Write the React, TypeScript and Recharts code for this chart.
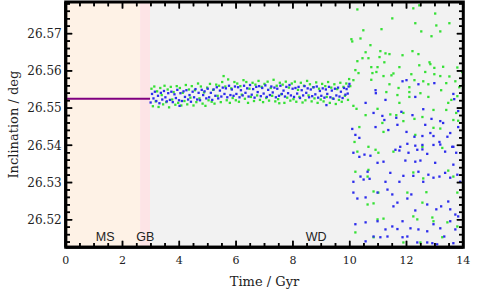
import { ScatterChart, Scatter, XAxis, YAxis, ReferenceArea } from "recharts";

// inclination of the outer planet vs. time, [Gyr, deg]
const MS_TRACK: [number, number][] = [[0, 26.5525], [2.97, 26.5525]];

const GREEN_BAND: [number, number][] = [
  [3.02, 26.5552], [3.07, 26.5505], [3.12, 26.5558], [3.17, 26.5518], [3.22, 26.5545], [3.27, 26.5503],
  [3.33, 26.5554], [3.38, 26.5535], [3.43, 26.551], [3.48, 26.556], [3.54, 26.5516], [3.59, 26.555],
  [3.64, 26.5502], [3.7, 26.5557], [3.75, 26.5523], [3.8, 26.5543], [3.86, 26.5509], [3.91, 26.5559],
  [3.96, 26.5514], [4.02, 26.5554], [4.07, 26.5507], [4.12, 26.5541], [4.18, 26.5519], [4.23, 26.5562],
  [4.28, 26.551], [4.34, 26.555], [4.39, 26.5528], [4.44, 26.5559], [4.5, 26.5507], [4.55, 26.5548],
  [4.6, 26.5516], [4.66, 26.5566], [4.71, 26.5526], [4.76, 26.5558], [4.82, 26.5512], [4.87, 26.5542],
  [4.92, 26.5506], [4.98, 26.5555], [5.03, 26.5521], [5.08, 26.5565], [5.14, 26.5517], [5.19, 26.5549],
  [5.24, 26.5512], [5.3, 26.5563], [5.35, 26.5533], [5.4, 26.556], [5.46, 26.5516], [5.51, 26.557],
  [5.56, 26.5586], [5.62, 26.5558], [5.67, 26.5521], [5.72, 26.5577], [5.78, 26.5514], [5.83, 26.5553],
  [5.88, 26.5527], [5.94, 26.557], [5.99, 26.5521], [6.04, 26.5566], [6.1, 26.5517], [6.15, 26.5559],
  [6.2, 26.5536], [6.26, 26.5575], [6.31, 26.5525], [6.36, 26.557], [6.42, 26.5514], [6.47, 26.5552],
  [6.52, 26.553], [6.58, 26.5568], [6.63, 26.5519], [6.68, 26.5563], [6.74, 26.5534], [6.79, 26.5573],
  [6.84, 26.5522], [6.9, 26.5557], [6.95, 26.5516], [7.0, 26.5565], [7.06, 26.5527], [7.11, 26.5571],
  [7.16, 26.552], [7.22, 26.5554], [7.27, 26.5533], [7.32, 26.5576], [7.38, 26.5518], [7.43, 26.556],
  [7.48, 26.5524], [7.52, 26.5513], [7.54, 26.5568], [7.59, 26.5537], [7.64, 26.5563], [7.7, 26.5514],
  [7.75, 26.5571], [7.8, 26.5528], [7.86, 26.5555], [7.91, 26.552], [7.96, 26.5566], [8.02, 26.5524],
  [8.07, 26.5571], [8.12, 26.5517], [8.18, 26.5549], [8.23, 26.553], [8.28, 26.5568], [8.34, 26.5515],
  [8.39, 26.556], [8.44, 26.5521], [8.5, 26.5573], [8.55, 26.5534], [8.6, 26.5564], [8.66, 26.5518],
  [8.71, 26.5556], [8.76, 26.5526], [8.82, 26.5569], [8.87, 26.5514], [8.92, 26.5552], [8.98, 26.5523],
  [9.03, 26.5565], [9.08, 26.5518], [9.14, 26.5559], [9.19, 26.553], [9.24, 26.557], [9.3, 26.5514],
  [9.35, 26.5555], [9.4, 26.5526], [9.46, 26.5564], [9.51, 26.5511], [9.56, 26.5551], [9.62, 26.5522],
  [9.67, 26.5568], [9.72, 26.5517], [9.78, 26.5557], [9.83, 26.5533], [9.88, 26.5566], [9.94, 26.5522],
  [9.98, 26.5578],
];

const BLUE_BAND: [number, number][] = [
  [2.99, 26.5515], [3.04, 26.5538], [3.09, 26.5526], [3.14, 26.5544], [3.19, 26.5519], [3.25, 26.5533],
  [3.3, 26.5513], [3.35, 26.5541], [3.4, 26.5523], [3.46, 26.5546], [3.51, 26.5529], [3.56, 26.5518],
  [3.61, 26.554], [3.67, 26.5522], [3.72, 26.5544], [3.77, 26.5516], [3.83, 26.5537], [3.88, 26.5527],
  [3.93, 26.5549], [3.99, 26.5521], [4.01, 26.5506], [4.04, 26.554], [4.09, 26.5519], [4.15, 26.5545],
  [4.2, 26.553], [4.25, 26.5548], [4.31, 26.5523], [4.36, 26.5535], [4.41, 26.5517], [4.47, 26.5544],
  [4.52, 26.5529], [4.57, 26.5551], [4.63, 26.5523], [4.68, 26.5541], [4.73, 26.5521], [4.79, 26.5549],
  [4.84, 26.5535], [4.89, 26.5545], [4.95, 26.5526], [5.0, 26.5552], [5.05, 26.5529], [5.11, 26.5541],
  [5.16, 26.5522], [5.21, 26.555], [5.27, 26.5533], [5.32, 26.5556], [5.37, 26.5526], [5.43, 26.5547],
  [5.48, 26.5531], [5.53, 26.5555], [5.59, 26.5538], [5.64, 26.5553], [5.69, 26.5529], [5.75, 26.556],
  [5.8, 26.5535], [5.85, 26.555], [5.91, 26.5533], [5.96, 26.5558], [6.01, 26.5538], [6.07, 26.5556],
  [6.12, 26.5529], [6.17, 26.5548], [6.23, 26.5534], [6.28, 26.556], [6.33, 26.5541], [6.39, 26.5553],
  [6.44, 26.5531], [6.49, 26.5562], [6.55, 26.5536], [6.6, 26.5551], [6.65, 26.5528], [6.71, 26.5557],
  [6.76, 26.5543], [6.81, 26.5559], [6.87, 26.5532], [6.92, 26.5554], [6.97, 26.5539], [7.03, 26.5561],
  [7.08, 26.553], [7.13, 26.5549], [7.19, 26.5535], [7.24, 26.5558], [7.29, 26.5542], [7.35, 26.5555],
  [7.4, 26.5529], [7.45, 26.5552], [7.51, 26.5533], [7.56, 26.556], [7.61, 26.5538], [7.67, 26.5547],
  [7.72, 26.5531], [7.77, 26.5557], [7.83, 26.554], [7.88, 26.5562], [7.93, 26.5534], [7.99, 26.5552],
  [8.04, 26.553], [8.09, 26.5554], [8.15, 26.5539], [8.2, 26.5557], [8.25, 26.5527], [8.31, 26.5548],
  [8.36, 26.5534], [8.41, 26.5559], [8.47, 26.5541], [8.52, 26.5553], [8.57, 26.5529], [8.63, 26.555],
  [8.68, 26.5532], [8.73, 26.5556], [8.79, 26.5537], [8.84, 26.5558], [8.89, 26.5528], [8.95, 26.5546],
  [9.0, 26.5533], [9.05, 26.5553], [9.11, 26.5528], [9.16, 26.555], [9.18, 26.5508], [9.21, 26.5538],
  [9.27, 26.5557], [9.32, 26.5529], [9.37, 26.5547], [9.43, 26.5525], [9.48, 26.5552], [9.53, 26.5534],
  [9.59, 26.5555], [9.64, 26.5531], [9.69, 26.5544], [9.75, 26.5527], [9.8, 26.5554], [9.85, 26.5536],
  [9.89, 26.5551], [9.93, 26.5539], [9.96, 26.5558], [9.99, 26.5565],
];

const GREEN_SCATTER: [number, number][] = [
  [10.48, 26.5709], [11.12, 26.5712], [12.31, 26.5728], [13.05, 26.5722], [13.51, 26.5728], [12.52, 26.5706],
  [13.19, 26.5706], [12.88, 26.5693], [10.38, 26.5687], [10.09, 26.5679], [10.73, 26.5669], [10.56, 26.565],
  [11.08, 26.5653], [11.26, 26.5647], [11.4, 26.5645], [12.21, 26.5653], [12.42, 26.5645], [11.86, 26.5642],
  [10.45, 26.5634], [10.66, 26.5634], [11.05, 26.5637], [10.27, 26.5626], [11.22, 26.5623], [12.81, 26.5623],
  [12.84, 26.5618], [12.45, 26.5615], [10.76, 26.561], [10.98, 26.561], [11.75, 26.561], [12.98, 26.5608],
  [13.29, 26.5611], [13.79, 26.5609], [10.94, 26.5597], [10.8, 26.5594], [10.31, 26.5594], [11.19, 26.5586],
  [11.47, 26.5588], [11.54, 26.5593], [12.17, 26.5591], [12.66, 26.5597], [12.98, 26.5591], [13.19, 26.5586],
  [13.51, 26.5585], [13.96, 26.5597], [10.13, 26.5575], [10.76, 26.5576], [11.4, 26.5564], [11.72, 26.5554],
  [12.28, 26.5575], [12.59, 26.5572], [12.77, 26.5564], [13.4, 26.5567], [13.72, 26.5572], [12.1, 26.5556],
  [10.02, 26.5559], [11.29, 26.5543], [12.1, 26.5543], [11.68, 26.5535], [12.49, 26.554], [13.22, 26.5548],
  [13.86, 26.5556], [13.99, 26.5562], [11.75, 26.5514], [12.1, 26.553], [12.77, 26.553], [13.58, 26.5522],
  [13.79, 26.5532], [13.47, 26.5514], [10.98, 26.5498], [11.64, 26.5481], [11.43, 26.5483], [11.89, 26.5487],
  [10.56, 26.5481], [12.95, 26.5495], [13.4, 26.5495], [13.75, 26.5487], [12.56, 26.5476], [12.28, 26.5471],
  [11.89, 26.5465], [10.13, 26.5506], [10.24, 26.5498], [10.27, 26.5765], [11.5, 26.5741], [12.24, 26.5768],
  [12.45, 26.5776], [13.01, 26.5754], [10.06, 26.5685], [10.2, 26.5602], [10.34, 26.5449], [10.66, 26.5396],
  [10.17, 26.5409], [11.15, 26.546], [11.19, 26.5436], [12.31, 26.5428], [12.95, 26.5447], [13.19, 26.5445],
  [13.65, 26.5468], [13.82, 26.5466], [10.27, 26.5383], [10.91, 26.5388], [11.01, 26.538], [11.54, 26.5383],
  [12.56, 26.5396], [13.26, 26.5393], [10.2, 26.5329], [10.63, 26.5316], [10.66, 26.5334], [10.84, 26.5276],
  [11.01, 26.5273], [12.03, 26.5273], [12.24, 26.5327], [12.59, 26.5311], [12.7, 26.5274], [12.56, 26.5246],
  [13.47, 26.5332], [13.65, 26.5316], [13.79, 26.5273], [10.63, 26.5241], [10.84, 26.5244], [10.98, 26.5201],
  [11.19, 26.5203], [12.24, 26.5209], [12.38, 26.5201], [12.91, 26.5206], [12.95, 26.5196], [13.44, 26.5193],
  [13.79, 26.5182], [10.2, 26.5166], [10.84, 26.5153], [12.49, 26.5139], [13.26, 26.5153], [11.89, 26.5139],
];

const BLUE_SCATTER: [number, number][] = [
  [10.91, 26.5548], [10.92, 26.554], [11.26, 26.5522], [10.56, 26.5514], [11.86, 26.5572], [12.0, 26.5575],
  [12.42, 26.5564], [12.31, 26.553], [12.98, 26.5567], [13.65, 26.5538], [13.68, 26.5524], [13.82, 26.5492],
  [11.82, 26.549], [12.21, 26.5481], [12.59, 26.5497], [12.88, 26.5471], [10.84, 26.5487], [11.22, 26.5468],
  [11.64, 26.5474], [13.19, 26.5465], [13.29, 26.546], [10.09, 26.5444], [10.2, 26.5428], [10.34, 26.542],
  [10.91, 26.5449], [11.15, 26.5479], [11.36, 26.5441], [11.68, 26.5455], [12.0, 26.5436], [12.03, 26.5404],
  [12.28, 26.5423], [12.56, 26.5425], [12.66, 26.5455], [12.84, 26.5433], [12.95, 26.5425], [13.16, 26.5409],
  [13.44, 26.5423], [13.54, 26.5433], [13.65, 26.5396], [13.82, 26.5449], [12.56, 26.5401], [11.78, 26.5396],
  [12.31, 26.5399], [10.13, 26.538], [10.34, 26.5369], [10.52, 26.5375], [10.73, 26.5372], [10.98, 26.5353],
  [11.19, 26.5356], [11.61, 26.5388], [11.75, 26.5386], [12.07, 26.538], [12.38, 26.5388], [12.56, 26.5389],
  [12.73, 26.5377], [12.95, 26.5401], [13.19, 26.5402], [13.36, 26.5383], [13.61, 26.5396], [13.75, 26.538],
  [11.96, 26.5359], [12.31, 26.5356], [12.49, 26.5359], [13.01, 26.5353], [13.65, 26.5348], [10.13, 26.5302],
  [10.38, 26.5316], [10.49, 26.5308], [10.7, 26.531], [10.63, 26.5329], [11.26, 26.5302], [11.43, 26.5326],
  [11.75, 26.5302], [11.89, 26.5318], [12.24, 26.5318], [12.42, 26.5329], [12.59, 26.5302], [12.77, 26.5321],
  [12.95, 26.5313], [13.16, 26.5316], [13.36, 26.5326], [13.54, 26.5313], [13.79, 26.5321], [13.89, 26.5302],
  [10.13, 26.5273], [10.27, 26.5257], [10.56, 26.526], [10.98, 26.5273], [11.33, 26.5281], [11.5, 26.5268],
  [11.68, 26.5246], [11.54, 26.5236], [12.03, 26.5257], [12.17, 26.5268], [12.31, 26.5225], [12.73, 26.5241],
  [13.05, 26.5228], [13.22, 26.5236], [13.47, 26.5249], [13.54, 26.5228], [13.72, 26.5214], [13.82, 26.5209],
  [10.2, 26.5188], [10.56, 26.5193], [10.98, 26.5196], [11.26, 26.5174], [11.5, 26.5182], [11.68, 26.5175],
  [11.86, 26.5196], [12.14, 26.5177], [12.42, 26.5174], [12.73, 26.5169], [12.95, 26.5188], [13.19, 26.5177],
  [13.54, 26.5196], [13.72, 26.5174], [10.56, 26.5142], [10.84, 26.5155], [11.08, 26.5153], [11.33, 26.5155],
  [11.86, 26.5153], [12.03, 26.5155], [12.38, 26.5139], [12.73, 26.5139], [12.91, 26.5137], [13.08, 26.5134],
  [13.65, 26.5137], [13.33, 26.5155],
];

// stellar phases
const PHASES = ["MS", "GB", "WD"];
const PHASE_START = [0, 2.62, 2.97];
const PHASE_END = [2.62, 2.97, 14];
const PHASE_LABEL_T = [1.39, 2.8, 8.82];
const PHASE_LABEL_INC = 26.5156;
const PHASE_COLORS = ["#FEF2E6", "#FDE4E6", "#F2F2F2"];

const X_TICKS = [0, 0.5, 1, 1.5, 2, 2.5, 3, 3.5, 4, 4.5, 5, 5.5, 6, 6.5, 7, 7.5, 8, 8.5, 9, 9.5, 10, 10.5, 11, 11.5, 12, 12.5, 13, 13.5, 14];
const Y_TICKS = [
  26.514, 26.516, 26.518, 26.52, 26.522, 26.524, 26.526, 26.528, 26.53, 26.532, 26.534, 26.536, 26.538,
  26.54, 26.542, 26.544, 26.546, 26.548, 26.55, 26.552, 26.554, 26.556, 26.558, 26.56, 26.562, 26.564,
  26.566, 26.568, 26.57, 26.572, 26.574, 26.576, 26.578,
];
const X_DOMAIN = [0, 14];
const Y_DOMAIN = [26.5126, 26.5785];

const W = 491;
const H = 296;
const MARGIN = { top: 2, right: 27.7, bottom: 18.7, left: 5.7 };
const YAXIS_W = 60;
const XAXIS_H = 30;
const PLOT_L = MARGIN.left + YAXIS_W;
const PLOT_W = W - PLOT_L - MARGIN.right;
const PLOT_H = H - MARGIN.top - MARGIN.bottom - XAXIS_H;

const SERIF = "'DejaVu Serif', serif";
const GREEN = "#35E035";
const BLUE = "#2C2CEC";
const MAJOR_LEN = 6.5;
const MINOR_LEN = 4.3;
const TICK_STROKE = { stroke: "#000", strokeWidth: 1.5 };

const isMajorX = (v: number) => Math.abs(v / 2 - Math.round(v / 2)) < 1e-6;
const isMajorY = (v: number) => Math.abs(v * 100 - Math.round(v * 100)) < 1e-6;

const toPoints = (rows: [number, number][]) => rows.map(([t, inc]) => ({ t, inc }));

// frame corners and inward tick marks, placed through the chart's scales
const frame = [
  { t: X_DOMAIN[0], inc: Y_DOMAIN[0] }, { t: X_DOMAIN[1], inc: Y_DOMAIN[0] },
  { t: X_DOMAIN[1], inc: Y_DOMAIN[1] }, { t: X_DOMAIN[0], inc: Y_DOMAIN[1] },
  { t: X_DOMAIN[0], inc: Y_DOMAIN[0] },
];
const tickMarks = [
  ...X_TICKS.map((v) => ({ t: v, inc: Y_DOMAIN[0], dx: 0, dy: -1, len: isMajorX(v) ? MAJOR_LEN : MINOR_LEN })),
  ...X_TICKS.map((v) => ({ t: v, inc: Y_DOMAIN[1], dx: 0, dy: 1, len: isMajorX(v) ? MAJOR_LEN : MINOR_LEN })),
  ...Y_TICKS.map((v) => ({ t: X_DOMAIN[0], inc: v, dx: 1, dy: 0, len: isMajorY(v) ? MAJOR_LEN : MINOR_LEN })),
  ...Y_TICKS.map((v) => ({ t: X_DOMAIN[1], inc: v, dx: -1, dy: 0, len: isMajorY(v) ? MAJOR_LEN : MINOR_LEN })),
];

const square = (color: string) => (p: any) => (
  <rect x={p.cx - 1.15} y={p.cy - 1.15} width={2.3} height={2.3} fill={color} />
);

const tickShape = (p: any) => (
  <line
    x1={p.cx}
    y1={p.cy}
    x2={p.cx + p.payload.dx * p.payload.len}
    y2={p.cy + p.payload.dy * p.payload.len}
    {...TICK_STROKE}
  />
);

const BottomTick = ({ x, y, payload }: any) => {
  const major = isMajorX(payload.value);
  const len = major ? MAJOR_LEN : MINOR_LEN;
  return (
    <g>
      <line x1={x} x2={x} y1={y} y2={y - len} {...TICK_STROKE} />
      <line x1={x} x2={x} y1={y - PLOT_H} y2={y - PLOT_H + len} {...TICK_STROKE} />
      {major && (
        <text x={x} y={y + 16.7} textAnchor="middle" fontFamily={SERIF} fontSize={11} fill="#222">
          {payload.value}
        </text>
      )}
    </g>
  );
};

const LeftTick = ({ x, y, payload }: any) => {
  const major = isMajorY(payload.value);
  const len = major ? MAJOR_LEN : MINOR_LEN;
  return (
    <g>
      <line x1={x} x2={x + len} y1={y} y2={y} {...TICK_STROKE} />
      <line x1={x + PLOT_W} x2={x + PLOT_W - len} y1={y} y2={y} {...TICK_STROKE} />
      {major && (
        <text x={x - 4} y={y + 4.3} textAnchor="end" fontFamily={SERIF} fontSize={12} fill="#222">
          {payload.value.toFixed(2)}
        </text>
      )}
    </g>
  );
};

export default function App() {
  const labels = PHASES.map((name, i) => ({ name, t: PHASE_LABEL_T[i], inc: PHASE_LABEL_INC }));
  return (
    <div style={{ position: "absolute", left: 0, top: 0, background: "#fff" }}>
      <ScatterChart width={W} height={H} margin={MARGIN}>
        {PHASES.map((name, i) => (
          <ReferenceArea
            key={name}
            x1={PHASE_START[i]}
            x2={PHASE_END[i]}
            fill={PHASE_COLORS[i]}
            fillOpacity={1}
            stroke="none"
          />
        ))}
        <XAxis
          dataKey="t"
          type="number"
          domain={X_DOMAIN}
          ticks={X_TICKS}
          interval={0}
          height={XAXIS_H}
          tickSize={0}
          tickMargin={0}
          tickLine={false}
          axisLine={{ stroke: "#000", strokeWidth: 3 }}
          tick={<BottomTick />}
          label={{
            content: () => (
              <text x={PLOT_L + PLOT_W / 2} y={286} textAnchor="middle" fontFamily={SERIF} fontSize={13} fill="#222">
                Time / Gyr
              </text>
            ),
          }}
        />
        <YAxis
          dataKey="inc"
          type="number"
          domain={Y_DOMAIN}
          ticks={Y_TICKS}
          interval={0}
          width={YAXIS_W}
          tickSize={0}
          tickMargin={0}
          tickLine={false}
          axisLine={{ stroke: "#000", strokeWidth: 3 }}
          tick={<LeftTick />}
          label={{
            content: () => (
              <text
                transform={`translate(18, ${MARGIN.top + PLOT_H / 2}) rotate(-90)`}
                textAnchor="middle"
                fontFamily={SERIF}
                fontSize={13}
                fill="#222"
              >
                Inclination / deg
              </text>
            ),
          }}
        />
        <Scatter
          data={toPoints(MS_TRACK)}
          line={{ stroke: "#800080", strokeWidth: 2 }}
          shape={() => <g />}
          isAnimationActive={false}
        />
        <Scatter data={toPoints(GREEN_BAND)} shape={square(GREEN)} isAnimationActive={false} />
        <Scatter data={toPoints(GREEN_SCATTER)} shape={square(GREEN)} isAnimationActive={false} />
        <Scatter data={toPoints(BLUE_BAND)} shape={square(BLUE)} isAnimationActive={false} />
        <Scatter data={toPoints(BLUE_SCATTER)} shape={square(BLUE)} isAnimationActive={false} />
        <Scatter
          data={labels}
          isAnimationActive={false}
          shape={(p: any) => (
            <text x={p.cx} y={p.cy + 4.5} textAnchor="middle" fontFamily="'Liberation Sans', Arial, sans-serif" fontSize={12.5} fill="#222">
              {p.payload.name}
            </text>
          )}
        />
        <Scatter data={tickMarks} shape={tickShape} isAnimationActive={false} />
        <Scatter
          data={frame}
          line={{ stroke: "#000", strokeWidth: 3, strokeLinecap: "square", strokeLinejoin: "miter" }}
          shape={() => <g />}
          isAnimationActive={false}
        />
      </ScatterChart>
    </div>
  );
}
